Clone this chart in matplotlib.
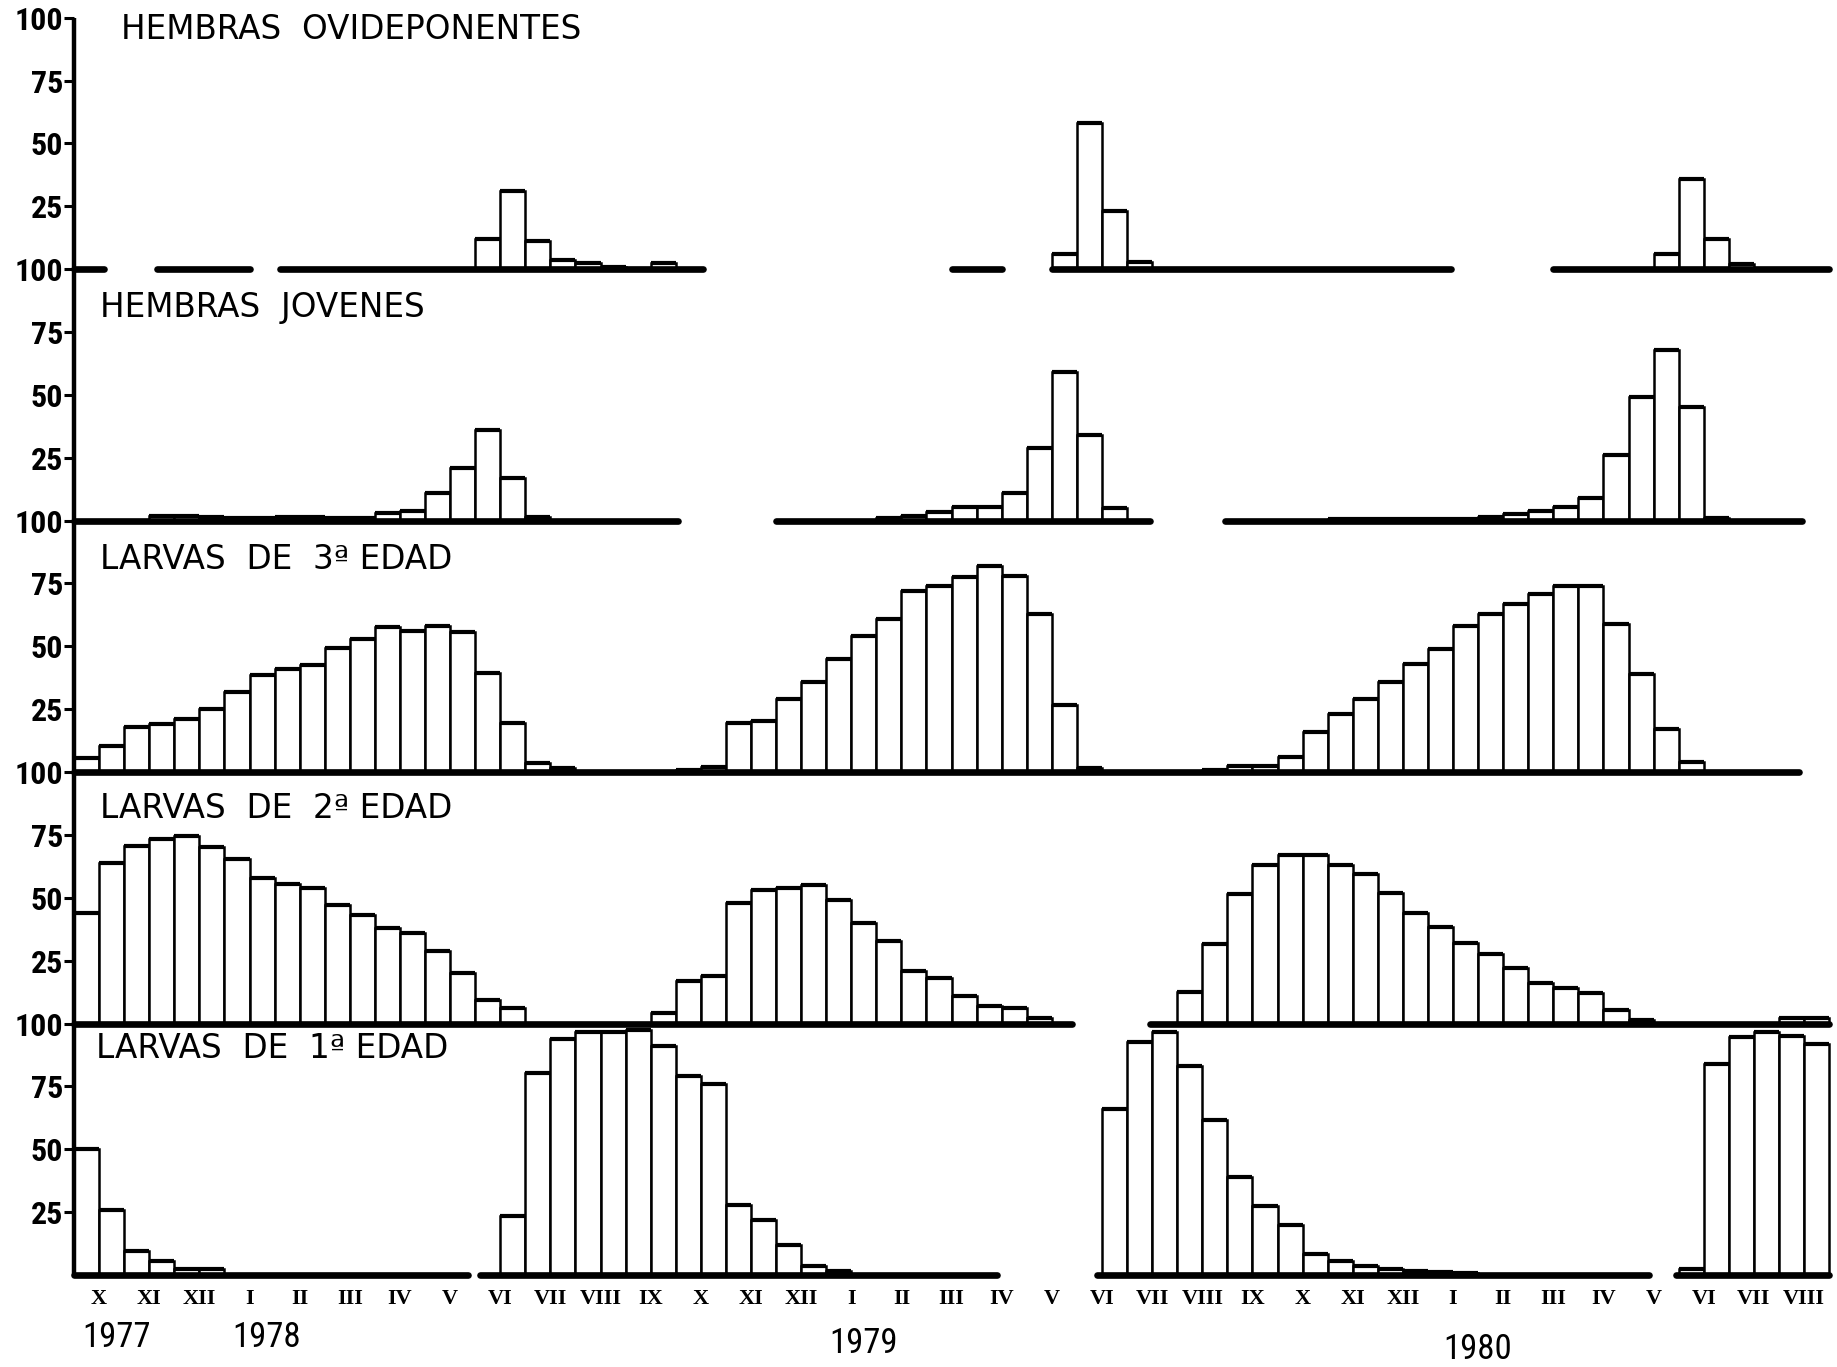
import matplotlib
matplotlib.use("Agg")
import matplotlib.pyplot as plt
from matplotlib import font_manager
from matplotlib.transforms import blended_transform_factory

# ---------------- data (x in half-month bins, 0 = 1st half of Oct 1977) -------------
# HEMBRAS OVIDEPONENTES
ovi_78_start = 16
ovi_78 = [12, 31, 11, 3.5, 2.5, 1, 0, 2.5]
ovi_79_start = 39
ovi_79 = [6, 58, 23, 3]
ovi_80_start = 63
ovi_80 = [6, 36, 12, 2]
ovi_base = [(0, 1.2), (3.3, 7.0), (8.2, 25.1), (35.0, 37.0), (39.0, 54.9), (59.0, 70.0)]

# HEMBRAS JOVENES
jov_78_start = 3
jov_78 = [2, 2, 1.5, 1, 1, 1.5, 1.5, 1, 1, 3, 4, 11, 21, 36, 17, 1.5]
jov_79_start = 32
jov_79 = [1, 2, 3.5, 5.5, 5.5, 11, 29, 59, 34, 5]
jov_80_start = 50
jov_80 = [0.5, 0.5, 0.5, 0.5, 0.5, 0.5, 1.5, 2.5, 4, 5.5, 9, 26, 49, 68, 45, 1]
jov_base = [(0, 24.1), (28.0, 42.9), (45.9, 68.9)]

# LARVAS DE 3a EDAD
l3_78_start = 0
l3_78 = [5.5, 10.5, 18, 19, 21, 25, 32, 38.5, 41, 42.5, 49.5, 53, 57.5, 56, 58, 55.5,
         39.5, 19.5, 3.5, 1.5]
l3_79_start = 24
l3_79 = [1, 2, 19.5, 20.5, 29, 36, 45, 54, 61, 72, 74, 77.5, 82, 78, 63, 26.5, 1.5]
l3_80_start = 45
l3_80 = [1, 2.5, 2.5, 6, 16, 23, 29, 36, 43, 49, 58, 63, 67, 71, 74, 74, 59, 39, 17, 4]
l3_base = [(0, 68.8)]

# LARVAS DE 2a EDAD
l2_78_start = 0
l2_78 = [44, 64, 70.5, 73.5, 74.5, 70, 65.5, 58, 55.5, 54, 47, 43, 38, 36, 29, 20, 9.5, 6]
l2_79_start = 23
l2_79 = [4, 17, 19, 48, 53, 54, 55, 49, 40, 33, 21, 18, 11, 7, 6, 2]
l2_80_start = 44
l2_80 = [12.5, 31.5, 51.5, 63, 67, 67, 63, 59.5, 52, 44, 38.5, 32, 27.5, 22, 16, 14, 12,
         5.5, 1.5]
l2_81_start = 68
l2_81 = [2, 2]
l2_base = [(0, 39.8), (42.9, 70.0)]

# LARVAS DE 1a EDAD
l1_77_start = 0
l1_77 = [50, 26, 9.5, 5.5, 2.5, 2.5]
l1_78_start = 17
l1_78 = [23.5, 80.5, 94, 96.5, 96.5, 97.5, 91, 79, 76, 28, 22, 12, 3.5, 1.5]
l1_79_start = 41
l1_79 = [66, 92.5, 96.5, 83, 61.5, 39, 27.5, 20, 8.5, 5.5, 3.5, 2.5, 1.5, 1.2, 0.6]
l1_80_start = 64
l1_80 = [2.5, 84, 94.5, 96.5, 95, 92]
l1_base = [(0, 15.7), (16.2, 36.8), (40.8, 62.8), (63.9, 70.0)]

titles = ["HEMBRAS  OVIDEPONENTES", "HEMBRAS  JOVENES", "LARVAS  DE  3ª EDAD",
          "LARVAS  DE  2ª EDAD", "LARVAS  DE  1ª EDAD"]

month_labels = (["X", "XI", "XII", "I", "II", "III", "IV", "V"]
                + ["VI", "VII", "VIII", "IX", "X", "XI", "XII", "I", "II", "III", "IV", "V"] * 2
                + ["VI", "VII", "VIII"])
year_labels = ["1977", "1978", "1979", "1980"]
year_x = [1.7, 7.7, 31.5, 56.0]

ytick_vals = [25, 50, 75, 100]
ytick_labels = ["25", "50", "75", "100"]

panels = [
    (titles[0], [(ovi_78_start, ovi_78), (ovi_79_start, ovi_79), (ovi_80_start, ovi_80)], ovi_base),
    (titles[1], [(jov_78_start, jov_78), (jov_79_start, jov_79), (jov_80_start, jov_80)], jov_base),
    (titles[2], [(l3_78_start, l3_78), (l3_79_start, l3_79), (l3_80_start, l3_80)], l3_base),
    (titles[3], [(l2_78_start, l2_78), (l2_79_start, l2_79), (l2_80_start, l2_80),
                 (l2_81_start, l2_81)], l2_base),
    (titles[4], [(l1_77_start, l1_77), (l1_78_start, l1_78), (l1_79_start, l1_79),
                 (l1_80_start, l1_80)], l1_base),
]

# ---------------- fonts -------------
avail = {f.name for f in font_manager.fontManager.ttflist}


def pick(*cands):
    for c in cands:
        if c in avail:
            return c
    return "DejaVu Sans"


narrow = pick("Liberation Sans Narrow", "Roboto Condensed", "Open Sans Condensed", "Liberation Sans")
serif = pick("Liberation Serif", "DejaVu Serif")
plain = "DejaVu Sans"

# ---------------- figure -------------
fig = plt.figure(figsize=(18.37, 13.67), dpi=100)
left, width = 0.0403, 0.9554
top, bottom = 0.9871, 0.0673
h = (top - bottom) / 5

title_pos = [(0.027, 0.952), (0.0146, 0.846), (0.0146, 0.846), (0.0146, 0.855), (0.0126, 0.902)]

axes = []
for i, (title, sections, base) in enumerate(panels):
    ax = fig.add_axes([left, top - (i + 1) * h, width, h])
    ax.patch.set_alpha(0)
    ax.set_xlim(0, 70)
    ax.set_ylim(0, 100)
    for s in ("top", "right", "bottom"):
        ax.spines[s].set_visible(False)
    ax.spines["left"].set_linewidth(3.2)
    ax.spines["left"].set_capstyle("butt")
    ax.set_yticks(ytick_vals)
    ax.set_yticklabels(ytick_labels)
    ax.tick_params(axis="y", direction="out", length=7, width=2.2, pad=1,
                   labelsize=23)
    for lab in ax.get_yticklabels():
        lab.set_fontfamily(narrow)
        lab.set_fontweight("bold")
    ax.set_xticks([])

    for start, vals in sections:
        xs = [start + k for k in range(len(vals))]
        ax.bar(xs, vals, width=1.0, align="edge", color="white", edgecolor="black",
               linewidth=1.8, zorder=2, clip_on=False)
        ax.hlines(vals, xs, [x + 1 for x in xs], colors="black", linewidth=3.0,
                  zorder=3, clip_on=False)
    for s0, s1 in base:
        ax.hlines(0, s0, s1, colors="black", linewidth=4.8, zorder=4,
                  capstyle="round", clip_on=False)

    tx, ty = title_pos[i]
    ax.text(tx, ty, title, transform=ax.transAxes, fontsize=23.5, fontfamily=plain,
            ha="left", va="center", color="black")
    axes.append(ax)

axb = axes[-1]
axb.set_xticks([2 * m + 1 for m in range(len(month_labels))])
axb.set_xticklabels(month_labels)
axb.tick_params(axis="x", length=0, pad=10, labelsize=16)
for lab in axb.get_xticklabels():
    lab.set_fontfamily(serif)
    lab.set_fontweight("bold")

trans = blended_transform_factory(axb.transData, axb.transAxes)
year_y = [-0.25, -0.25, -0.272, -0.296]
for lab, xv, yv in zip(year_labels, year_x, year_y):
    axb.text(xv, yv, lab, transform=trans, ha="center", va="center", fontsize=25,
             fontfamily=narrow, color="black")

fig.savefig("out.png", dpi=100, facecolor="white")
